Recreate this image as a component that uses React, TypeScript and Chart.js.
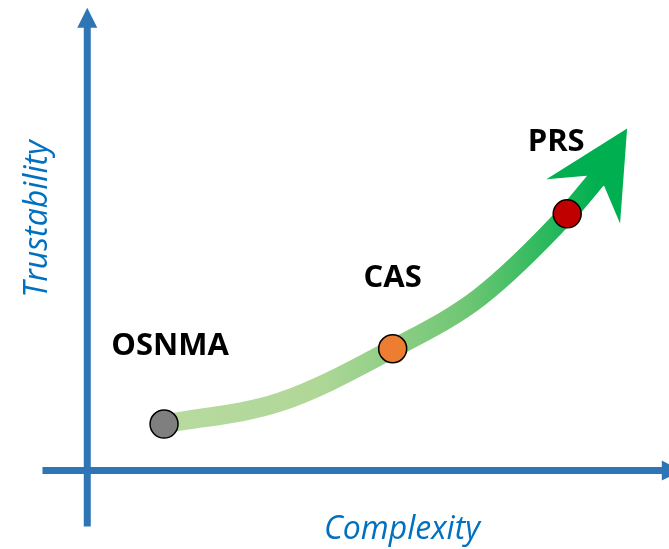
import React, { useEffect, useRef } from "react";
import { Chart, registerables } from "chart.js";

Chart.register(...registerables);

// ---- data ----
const CATEGORIES = ["OSNMA", "CAS", "PRS"];
const COMPLEXITY = [1.32, 5.25, 8.25];
const TRUSTABILITY = [0.89, 2.33, 4.91];
const POINT_COLORS = ["#7f7f7f", "#ed7d31", "#c00000"];

// trend curve traced along the green band
const CURVE_X = [1.32, 3.31, 5.25, 6.75, 8.25, 8.76];
const CURVE_Y = [0.89, 1.31, 2.33, 3.32, 4.91, 5.58];
const ARROW_TIP_X = 9.28;
const ARROW_TIP_Y = 6.54;

// axis extents (data units)
const X_RANGE = [-1.5, 10];
const Y_RANGE = [-1.5, 9];
const X_AXIS_SPAN = [-0.77, 10.22];
const Y_AXIS_SPAN = [-1.07, 8.85];

const X_TITLE = "Complexity";
const Y_TITLE = "Trustability";

// ---- layout / style (pixels) ----
const LABEL_OFFSETS = [
  [6, -69],
  [0, -62],
  [-11, -63],
];
const AXIS_COLOR = "#2e75b6";
const TITLE_COLOR = "#0070c0";
const ARROW_GREEN = "#00b050";

const axesPlugin = {
  id: "axesArrows",
  beforeDatasetsDraw(chart: any) {
    const { ctx, scales } = chart;
    const xs = scales.x;
    const ys = scales.y;
    const ox = xs.getPixelForValue(0);
    const oy = ys.getPixelForValue(0);
    ctx.save();
    ctx.strokeStyle = AXIS_COLOR;
    ctx.fillStyle = AXIS_COLOR;
    ctx.lineWidth = 7;
    ctx.lineCap = "butt";
    // vertical axis
    const yTop = ys.getPixelForValue(Y_AXIS_SPAN[1]);
    const yBottom = ys.getPixelForValue(Y_AXIS_SPAN[0]);
    ctx.beginPath();
    ctx.moveTo(ox, yBottom);
    ctx.lineTo(ox, yTop + 19);
    ctx.stroke();
    ctx.beginPath();
    ctx.moveTo(ox, yTop);
    ctx.lineTo(ox + 10, yTop + 20);
    ctx.lineTo(ox - 10, yTop + 20);
    ctx.closePath();
    ctx.fill();
    // horizontal axis
    const xLeft = xs.getPixelForValue(X_AXIS_SPAN[0]);
    const xRight = xs.getPixelForValue(X_AXIS_SPAN[1]);
    ctx.beginPath();
    ctx.moveTo(xLeft, oy);
    ctx.lineTo(xRight - 19, oy);
    ctx.stroke();
    ctx.beginPath();
    ctx.moveTo(xRight, oy);
    ctx.lineTo(xRight - 20, oy - 10);
    ctx.lineTo(xRight - 20, oy + 10);
    ctx.closePath();
    ctx.fill();

    // axis titles
    ctx.fillStyle = TITLE_COLOR;
    ctx.font = "italic 32px 'Open Sans'";
    ctx.textAlign = "center";
    ctx.textBaseline = "alphabetic";
    ctx.fillText(X_TITLE, 402, 539);
    ctx.save();
    ctx.translate(47, 219);
    ctx.rotate(-Math.PI / 2);
    ctx.fillText(Y_TITLE, 0, 0);
    ctx.restore();
    ctx.restore();
  },
  afterDatasetsDraw(chart: any) {
    const { ctx, scales } = chart;
    const xs = scales.x;
    const ys = scales.y;
    // arrow head
    const n = CURVE_X.length - 1;
    const ex = xs.getPixelForValue(CURVE_X[n]);
    const ey = ys.getPixelForValue(CURVE_Y[n]);
    const tx = xs.getPixelForValue(ARROW_TIP_X);
    const ty = ys.getPixelForValue(ARROW_TIP_Y);
    let ux = tx - ex;
    let uy = ty - ey;
    const len = Math.hypot(ux, uy);
    ux /= len;
    uy /= len;
    const nx = uy;
    const ny = -ux;
    const pt = (a: number, b: number) => [tx - a * ux + b * nx, ty - a * uy + b * ny];
    const poly = [pt(0, 0), pt(85, 43), pt(61, 10), pt(61, -10), pt(85, -43)];
    ctx.save();
    ctx.fillStyle = ARROW_GREEN;
    ctx.beginPath();
    poly.forEach((p, i) => (i === 0 ? ctx.moveTo(p[0], p[1]) : ctx.lineTo(p[0], p[1])));
    ctx.closePath();
    ctx.fill();

    // category labels
    ctx.fillStyle = "#000000";
    ctx.font = "bold 31px 'Open Sans'";
    ctx.textAlign = "center";
    ctx.textBaseline = "alphabetic";
    CATEGORIES.forEach((c, i) => {
      const px = xs.getPixelForValue(COMPLEXITY[i]);
      const py = ys.getPixelForValue(TRUSTABILITY[i]);
      ctx.fillText(c, px + LABEL_OFFSETS[i][0], py + LABEL_OFFSETS[i][1]);
    });
    ctx.restore();
  },
};

export default function App() {
  const ref = useRef<HTMLCanvasElement | null>(null);
  useEffect(() => {
    if (!ref.current) return;
    const chart = new Chart(ref.current, {
      type: "scatter",
      data: {
        datasets: [
          {
            type: "scatter",
            label: "Services",
            data: CATEGORIES.map((_, i) => ({ x: COMPLEXITY[i], y: TRUSTABILITY[i] })),
            backgroundColor: POINT_COLORS,
            borderColor: "#000000",
            borderWidth: 1.5,
            pointRadius: 14,
            pointHoverRadius: 14,
            order: 0,
          } as any,
          {
            type: "line",
            label: "Trend",
            data: CURVE_X.map((x, i) => ({ x, y: CURVE_Y[i] })),
            showLine: true,
            pointRadius: 0,
            borderWidth: 19,
            borderCapStyle: "butt",
            cubicInterpolationMode: "monotone",
            borderColor: (context: any) => {
              const { ctx, chartArea, scales } = context.chart;
              if (!chartArea || !scales.x) return "#8fd08a";
              const x0 = scales.x.getPixelForValue(CURVE_X[0]);
              const x1 = scales.x.getPixelForValue(CURVE_X[CURVE_X.length - 1]);
              const g = ctx.createLinearGradient(x0, 0, x1, 0);
              g.addColorStop(0, "rgb(184,218,160)");
              g.addColorStop(0.35, "rgb(176,215,152)");
              g.addColorStop(0.7, "rgb(110,198,115)");
              g.addColorStop(1, "rgb(0,176,80)");
              return g;
            },
            order: 1,
          } as any,
        ],
      },
      options: {
        animation: false,
        responsive: true,
        maintainAspectRatio: false,
        layout: { padding: 0, autoPadding: false },
        plugins: { legend: { display: false }, tooltip: { enabled: false } },
        events: [],
        scales: {
          x: { type: "linear", min: X_RANGE[0], max: X_RANGE[1], display: false },
          y: { type: "linear", min: Y_RANGE[0], max: Y_RANGE[1], display: false },
        },
      },
      plugins: [axesPlugin],
    });
    return () => chart.destroy();
  }, []);
  return (
    <div style={{ position: "fixed", left: 0, top: 0, width: 669, height: 549, background: "#fff" }}>
      <canvas ref={ref} />
    </div>
  );
}
